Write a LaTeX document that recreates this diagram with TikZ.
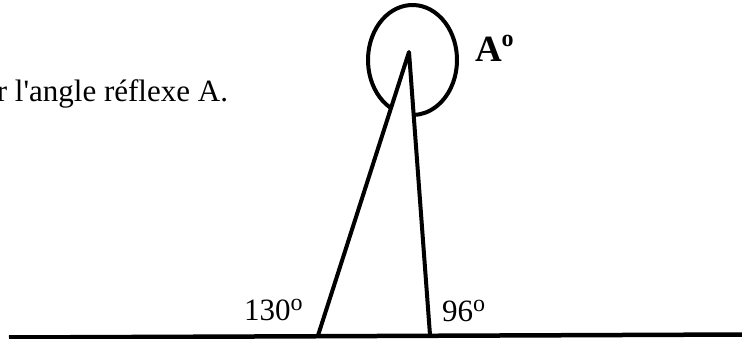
\documentclass[tikz,border=0pt]{standalone}
\usepackage{fontspec}
\setmainfont{Liberation Serif}[Ligatures=TeXOff]
\usetikzlibrary{calc}
\newcommand{\ordreg}{\raisebox{10pt}{\fontsize{24}{24}\selectfont o}}
\newcommand{\ordbold}{\raisebox{15pt}{\fontsize{24}{24}\selectfont\bfseries o}}
\begin{document}
\begin{tikzpicture}[x=1pt,y=-1pt,
  stroke/.style={line width=4pt,line join=round},
  lbl/.style={inner sep=0pt,outer sep=0pt,font=\fontsize{31}{36}\selectfont}]
\useasboundingbox (0,0) rectangle (742,339);
% ground line
\coordinate (g1) at (9,337.5);
\coordinate (g2) at (745,334.5);
\draw[line width=4.5pt] (g1) -- (g2);
% triangle
\coordinate (apex) at (409,52);
\coordinate (bl) at (318,335.5);
\coordinate (br) at (430,335);
\draw[stroke] (bl) -- (apex) -- (br);
% reflex angle arc
\coordinate (c) at (412.5,60);
\draw[stroke] ($(c)+(120:44.5 and 55)$) arc[start angle=120,end angle=449,x radius=44.5,y radius=55];
% labels
\node[lbl,anchor=base east] (t) at (228,102) {r l'angle réflexe A.};
\node[lbl,anchor=base west] (a1) at (244,320) {130\ordreg};
\node[lbl,anchor=base west] (a2) at (442,321) {96\ordreg};
\node[lbl,anchor=base west,font=\fontsize{37}{40}\selectfont\bfseries] (A) at (475,62) {A\ordbold};
\end{tikzpicture}
\end{document}
